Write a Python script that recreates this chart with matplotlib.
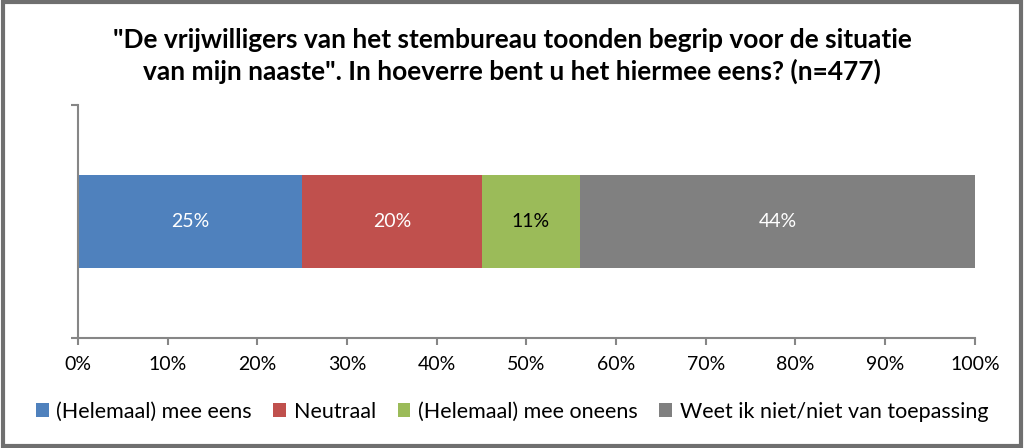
import matplotlib
matplotlib.use("Agg")
from matplotlib import pyplot as plt
from matplotlib.patches import Rectangle

plt.rcParams['font.family'] = ['Lato', 'DejaVu Sans']

categories = ['(Helemaal) mee eens', 'Neutraal', '(Helemaal) mee oneens',
              'Weet ik niet/niet van toepassing']
values = [25, 20, 11, 44]
colors = ['#4F81BD', '#C0504D', '#9BBB59', '#808080']
label_colors = ['white', 'white', 'black', 'white']
xticks = list(range(0, 101, 10))

title = ('"De vrijwilligers van het stembureau toonden begrip voor de situatie\n'
         'van mijn naaste". In hoeverre bent u het hiermee eens? (n=477)')

fig = plt.figure(figsize=(10.24, 4.48), dpi=100)
ax = fig.add_axes([0.0762, 0.2455, 0.8758, 0.52])

left = 0
for cat, v, c, lc in zip(categories, values, colors, label_colors):
    ax.barh(0.5, v, left=left, height=0.4, color=c, label=cat)
    ax.text(left + v / 2, 0.5, f'{v}%', ha='center', va='center',
            color=lc, fontsize=14)
    left += v

ax.set_xlim(0, 100)
ax.set_ylim(0, 1)
ax.set_xticks(xticks)
ax.set_xticklabels([f'{t}%' for t in xticks], fontsize=14)
ax.set_yticks([0, 1])
ax.set_yticklabels([])
for s in ['top', 'right']:
    ax.spines[s].set_visible(False)
for s in ['left', 'bottom']:
    ax.spines[s].set_color('#868686')
    ax.spines[s].set_linewidth(1.5)
ax.tick_params(axis='both', color='#868686', width=1.5, length=5)
ax.tick_params(axis='x', pad=8)

fig.text(0.5, 0.875, title, ha='center', va='center', fontsize=19,
         fontweight='bold', linespacing=1.3)

fig.legend(loc='lower center', bbox_to_anchor=(0.5, 0.015), ncol=4,
           frameon=False, fontsize=15.5, handlelength=0.6, handleheight=0.6,
           handletextpad=0.35, columnspacing=1.0)

fig.patches.append(Rectangle((0.003, 0.005), 0.994, 0.99, transform=fig.transFigure,
                             fill=False, edgecolor='#6f6f6f', linewidth=3))

fig.savefig('out.png', dpi=100)
